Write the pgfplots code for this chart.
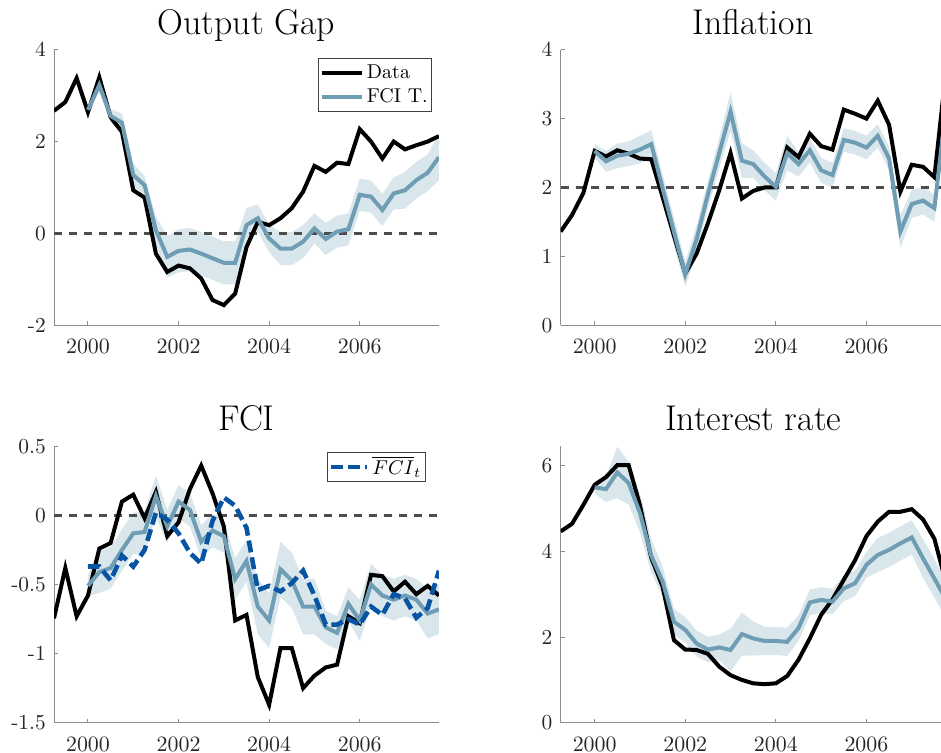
\documentclass[border=0pt]{standalone}
\usepackage{pgfplots}
\usepackage{pgfplotstable}
\pgfplotsset{compat=1.18}
\usepgfplotslibrary{fillbetween}

\definecolor{modclr}{RGB}{111,158,180}
\definecolor{bandclr}{RGB}{217,230,236}
\definecolor{barclr}{RGB}{8,84,164}
\definecolor{zeroclr}{RGB}{77,77,77}
\definecolor{axclr}{RGB}{140,140,140}
\definecolor{lblclr}{RGB}{38,38,38}

% quarterly data, 1999Q2 .. 2007Q4
\pgfplotstableread{
t       og     inf    fci     ir
1999.25 2.67   1.36  -0.745   4.47
1999.50 2.86   1.60  -0.38    4.65
1999.75 3.38   1.92  -0.73    5.09
2000.00 2.64   2.53  -0.58    5.56
2000.25 3.40   2.45  -0.24    5.74
2000.50 2.53   2.54  -0.20    6.02
2000.75 2.21   2.49   0.10    6.02
2001.00 0.94   2.42   0.15    5.08
2001.25 0.78   2.41  -0.02    3.85
2001.50 -0.44  1.86   0.17    3.18
2001.75 -0.84  1.30  -0.15    1.93
2002.00 -0.70  0.75  -0.05    1.71
2002.25 -0.76  1.04   0.19    1.70
2002.50 -0.98  1.48   0.36    1.61
2002.75 -1.45  1.96   0.16    1.31
2003.00 -1.56  2.50  -0.08    1.11
2003.25 -1.31  1.84  -0.76    1.00
2003.50 -0.30  1.95  -0.72    0.92
2003.75 0.25   2.00  -1.17    0.90
2004.00 0.18   2.00  -1.37    0.92
2004.25 0.33   2.58  -0.96    1.09
2004.50 0.55   2.44  -0.96    1.47
2004.75 0.91   2.78  -1.25    1.97
2005.00 1.47   2.60  -1.16    2.52
2005.25 1.34   2.55  -1.10    2.88
2005.50 1.54   3.13  -1.08    3.34
2005.75 1.51   3.07  -0.73    3.80
2006.00 2.27   3.00  -0.78    4.36
2006.25 2.00   3.26  -0.43    4.70
2006.50 1.63   2.91  -0.44    4.93
2006.75 2.00   1.94  -0.55    4.93
2007.00 1.83   2.33  -0.48    4.99
2007.25 1.92   2.30  -0.57    4.75
2007.50 2.00   2.15  -0.51    4.30
2007.75 2.12   3.65  -0.58    3.30
}\obsdata

% FCI-based estimates (mean, band half-width) and FCI bar
\pgfplotstableread{
t       og     ogw   inf   infw   fci    fciw   fbar   ir    irw
2000.00 2.69   0.05  2.53  0.10  -0.51   0.08  -0.37   5.50  0.15
2000.25 3.23   0.15  2.38  0.15  -0.41   0.15  -0.37   5.46  0.30
2000.50 2.56   0.15  2.46  0.18  -0.38   0.15  -0.47   5.85  0.60
2000.75 2.41   0.20  2.49  0.18  -0.25   0.15  -0.29   5.60  0.50
2001.00 1.27   0.25  2.55  0.20  -0.13   0.15  -0.37   4.90  0.45
2001.25 1.05   0.20  2.63  0.20  -0.12   0.15  -0.25   3.90  0.40
2001.50 0.07   0.30  1.99  0.20   0.14   0.15   0.02   3.30  0.35
2001.75 -0.51  0.45  1.36  0.20  -0.08   0.12  -0.03   2.36  0.30
2002.00 -0.38  0.47  0.74  0.18   0.10   0.12  -0.13   2.17  0.30
2002.25 -0.35  0.47  1.25  0.20   0.04   0.12  -0.27   1.85  0.30
2002.50 -0.44  0.47  1.90  0.20  -0.19   0.12  -0.35   1.71  0.30
2002.75 -0.54  0.47  2.50  0.22  -0.11   0.12  -0.04   1.76  0.30
2003.00 -0.64  0.47  3.10  0.28  -0.15   0.12   0.13   1.70  0.50
2003.25 -0.64  0.47  2.39  0.25  -0.46   0.15   0.07   2.07  0.50
2003.50 0.18   0.37  2.34  0.20  -0.33   0.15  -0.09   1.97  0.40
2003.75 0.33   0.30  2.16  0.20  -0.66   0.20  -0.54   1.91  0.33
2004.00 -0.11  0.30  2.01  0.20  -0.76   0.20  -0.51   1.91  0.33
2004.25 -0.33  0.36  2.50  0.25  -0.39   0.20  -0.55   1.89  0.33
2004.50 -0.33  0.36  2.34  0.18  -0.47   0.20  -0.49   2.21  0.30
2004.75 -0.18  0.36  2.54  0.18  -0.66   0.20  -0.40   2.81  0.30
2005.00 0.11   0.33  2.25  0.18  -0.66   0.20  -0.58   2.87  0.30
2005.25 -0.12  0.35  2.18  0.18  -0.81   0.12  -0.79   2.83  0.30
2005.50 0.04   0.35  2.69  0.17  -0.85   0.12  -0.79   3.14  0.30
2005.75 0.09   0.35  2.65  0.17  -0.64   0.12  -0.75   3.26  0.30
2006.00 0.84   0.35  2.58  0.17  -0.76   0.15  -0.79   3.69  0.30
2006.25 0.80   0.35  2.75  0.17  -0.50   0.15  -0.66   3.92  0.40
2006.50 0.51   0.35  2.42  0.17  -0.58   0.15  -0.72   4.04  0.40
2006.75 0.87   0.35  1.36  0.24  -0.61   0.15  -0.57   4.19  0.40
2007.00 0.94   0.40  1.76  0.20  -0.58   0.15  -0.60   4.33  0.40
2007.25 1.16   0.40  1.81  0.20  -0.61   0.15  -0.74   3.84  0.45
2007.50 1.32   0.40  1.70  0.20  -0.71   0.18  -0.67   3.37  0.45
2007.75 1.66   0.50  3.10  0.20  -0.68   0.18  -0.40   2.89  0.45
}\fcidata

\pgfplotsset{
  panel/.style={
    scale only axis, width=192.5pt,
    xmin=1999.25, xmax=2007.75,
    xtick={2000,2002,2004,2006},
    axis x line*=bottom, axis y line*=left,
    axis line style={axclr, line width=0.5pt, -},
    tick style={axclr, line width=0.5pt},
    major tick length=2pt, tick align=inside,
    x tick label style={/pgf/number format/1000 sep={}, yshift=-3.6pt},
    y tick label style={xshift=-0.6pt},
    tick label style={lblclr, font=\fontsize{10.7}{12}\selectfont},
    title style={font=\fontsize{17.9}{20}\selectfont, anchor=base, at={(0.5,1)}},
    legend cell align=left,
    legend style={at={(1,1)}, anchor=north east, draw=black!75,
      line width=0.5pt, font=\normalsize, inner xsep=0.5pt,
      nodes={inner xsep=1.5pt}},
  },
  datline/.style={black, line width=2pt},
  modline/.style={modclr, line width=2pt},
  zeroline/.style={zeroclr, line width=1.2pt, dash pattern=on 4.2pt off 3.3pt, forget plot},
}

\begin{document}
\begin{tikzpicture}

% ---------- Output gap ----------
\begin{axis}[panel, at={(27pt,-24.85pt)}, anchor=north west, height=137.8pt,
  ymin=-2, ymax=4, ytick={-2,0,2,4}, yticklabels={-2,0,2,4},
  title={Output Gap}, title style={yshift=1.4pt},
  legend style={xshift=-3.35pt, yshift=-4.3pt, inner ysep=1.1pt, row sep=-0.6pt},
  legend image code/.code={\draw[#1] (0pt,0pt) -- (20pt,0pt);}]
\addplot[draw=none, name path=ogup, forget plot] table[x=t, y expr=\thisrow{og}+\thisrow{ogw}] {\fcidata};
\addplot[draw=none, name path=oglo, forget plot] table[x=t, y expr=\thisrow{og}-\thisrow{ogw}] {\fcidata};
\addplot[bandclr, forget plot] fill between[of=ogup and oglo];
\addplot[zeroline] coordinates {(1999.25,0) (2007.75,0)};
\addplot[datline] table[x=t, y=og] {\obsdata};
\addlegendentry{Data}
\addplot[modline] table[x=t, y=og] {\fcidata};
\addlegendentry{FCI T.}
\end{axis}

% ---------- Inflation ----------
\begin{axis}[panel, at={(280.35pt,-24.85pt)}, anchor=north west, height=137.8pt,
  ymin=0, ymax=4, ytick={0,1,2,3,4}, yticklabels={0,1,2,3,4},
  title={Inflation}, title style={yshift=1.4pt}]
\addplot[draw=none, name path=infup, forget plot] table[x=t, y expr=\thisrow{inf}+\thisrow{infw}] {\fcidata};
\addplot[draw=none, name path=inflo, forget plot] table[x=t, y expr=\thisrow{inf}-\thisrow{infw}] {\fcidata};
\addplot[bandclr, forget plot] fill between[of=infup and inflo];
\addplot[zeroline] coordinates {(1999.25,2) (2007.75,2)};
\addplot[datline, forget plot] table[x=t, y=inf] {\obsdata};
\addplot[modline, forget plot] table[x=t, y=inf] {\fcidata};
\end{axis}

% ---------- FCI ----------
\begin{axis}[panel, at={(27pt,-223.15pt)}, anchor=north west, height=138.2pt,
  ymin=-1.5, ymax=0.5, ytick={-1.5,-1,-0.5,0,0.5}, yticklabels={-1.5,-1,-0.5,0,0.5},
  title={FCI}, title style={yshift=2.1pt},
  legend style={xshift=-6.65pt, yshift=-2.85pt, inner ysep=0.5pt,
    nodes={inner ysep=1.5pt}},
  legend image code/.code={\draw[#1] (0pt,0pt) -- (18pt,0pt);}]
\addplot[draw=none, name path=fciup, forget plot] table[x=t, y expr=\thisrow{fci}+\thisrow{fciw}] {\fcidata};
\addplot[draw=none, name path=fcilo, forget plot] table[x=t, y expr=\thisrow{fci}-\thisrow{fciw}] {\fcidata};
\addplot[bandclr, forget plot] fill between[of=fciup and fcilo];
\addplot[zeroline] coordinates {(1999.25,0) (2007.75,0)};
\addplot[datline, forget plot] table[x=t, y=fci] {\obsdata};
\addplot[modline, forget plot] table[x=t, y=fci] {\fcidata};
\addplot[barclr, line width=2.3pt, dash pattern=on 6pt off 2.5pt] table[x=t, y=fbar] {\fcidata};
\addlegendentry{$\overline{FCI}_t$}
\end{axis}

% ---------- Interest rate ----------
\begin{axis}[panel, at={(280.35pt,-223.15pt)}, anchor=north west, height=138.2pt,
  ymin=0, ymax=6.46, ytick={0,2,4,6}, yticklabels={0,2,4,6},
  title={Interest rate}, title style={yshift=2.1pt}]
\addplot[draw=none, name path=irup, forget plot] table[x=t, y expr=\thisrow{ir}+\thisrow{irw}] {\fcidata};
\addplot[draw=none, name path=irlo, forget plot] table[x=t, y expr=\thisrow{ir}-\thisrow{irw}] {\fcidata};
\addplot[bandclr, forget plot] fill between[of=irup and irlo];
\addplot[datline, forget plot] table[x=t, y=ir] {\obsdata};
\addplot[modline, forget plot] table[x=t, y=ir] {\fcidata};
\end{axis}

\pgfresetboundingbox
\path[use as bounding box] (0pt,0pt) rectangle (470.5pt,-376.5pt);
\end{tikzpicture}
\end{document}
